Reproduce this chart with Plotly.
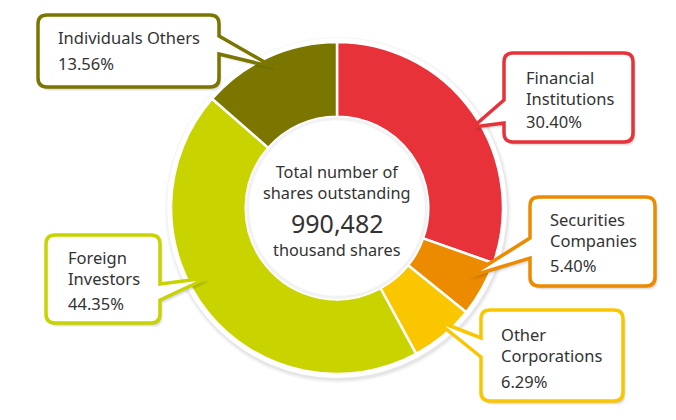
import plotly.graph_objects as go

# shareholder composition
labels = [
    "Financial Institutions",
    "Securities Companies",
    "Other Corporations",
    "Foreign Investors",
    "Individuals Others",
]
name_lines = [
    ["Financial", "Institutions"],
    ["Securities", "Companies"],
    ["Other", "Corporations"],
    ["Foreign", "Investors"],
    ["Individuals Others"],
]
shares_pct = [30.40, 5.40, 6.29, 44.35, 13.56]
colors = ["#E8323A", "#EC8B00", "#FAC600", "#C8D300", "#7A7600"]

total_shares = "990,482"

# page body keeps an 8px margin, so the figure is drawn inside it
OFF = 8
W, H = 660, 404
CX, CY, R = 337, 208, 166
HOLE = 0.55
FONT = "Noto Sans"
TXT = "#333333"


def px(x):
    return (x - OFF) / W


def py(y):
    return 1 - (y - OFF) / H


# callout boxes: (x0, y0, x1, y1, side, base0, base1, tip, text_x, name_y, pct_y)
callouts = [
    (504, 53, 633, 142, "left", 100, 123, (473, 127), 525, 87.5, 121),
    (530, 197, 655, 286, "left", 238, 258, (468, 277), 549, 229.5, 265),
    (481, 310, 623, 401, "left", 338, 357, (435, 320), 500, 344.5, 381),
    (46, 235, 160, 323, "right", 284, 300, (207, 278), 67, 267.5, 303),
    (38, 15, 219, 87, "right", 36, 54, (273, 67), 57, 38, 63),
]


def callout_path(x0, y0, x1, y1, side, b0, b1, tip, r=9, dx=0, dy=0):
    x0, x1, y0, y1 = x0 + dx, x1 + dx, y0 + dy, y1 + dy
    b0, b1 = b0 + dy, b1 + dy
    tx, ty = tip[0] + dx, tip[1] + dy

    def P(x, y):
        return f"{px(x):.5f},{py(y):.5f}"

    pts = [f"M{P(x0 + r, y0)}", f"L{P(x1 - r, y0)}", f"Q{P(x1, y0)} {P(x1, y0 + r)}"]
    if side == "right":
        pts += [f"L{P(x1, b0)}", f"L{P(tx, ty)}", f"L{P(x1, b1)}"]
    pts += [
        f"L{P(x1, y1 - r)}",
        f"Q{P(x1, y1)} {P(x1 - r, y1)}",
        f"L{P(x0 + r, y1)}",
        f"Q{P(x0, y1)} {P(x0, y1 - r)}",
    ]
    if side == "left":
        pts += [f"L{P(x0, b1)}", f"L{P(tx, ty)}", f"L{P(x0, b0)}"]
    pts += [f"L{P(x0, y0 + r)}", f"Q{P(x0, y0)} {P(x0 + r, y0)}"]
    return " ".join(pts) + " Z"


fig = go.Figure()

fig.add_trace(
    go.Pie(
        labels=labels,
        values=shares_pct,
        hole=HOLE,
        sort=False,
        direction="clockwise",
        rotation=0,
        marker=dict(colors=colors, line=dict(color="white", width=2.5)),
        textinfo="none",
        hoverinfo="label+percent",
        showlegend=False,
        domain=dict(
            x=[px(CX - R), px(CX + R)],
            y=[py(CY + R), py(CY - R)],
        ),
    )
)

shapes = []
# soft rim + shadow around the ring
for grow, col in [(7, "rgba(0,0,0,0.04)"), (5, "rgba(0,0,0,0.06)")]:
    shapes.append(
        dict(
            type="circle", xref="paper", yref="paper", layer="below",
            x0=px(CX - R - grow + 1), x1=px(CX + R + grow + 1),
            y0=py(CY + R + grow + 2), y1=py(CY - R - grow + 2),
            fillcolor=col, line=dict(width=0),
        )
    )
shapes.append(
    dict(
        type="circle", xref="paper", yref="paper", layer="below",
        x0=px(CX - R - 4), x1=px(CX + R + 4),
        y0=py(CY + R + 4), y1=py(CY - R - 4),
        fillcolor="white", line=dict(width=0),
    )
)
# inner shadow of the hole
ri = R * HOLE
shapes.append(
    dict(
        type="circle", xref="paper", yref="paper", layer="above",
        x0=px(CX - ri + 2), x1=px(CX + ri - 2),
        y0=py(CY + ri - 2), y1=py(CY - ri + 2),
        fillcolor="rgba(0,0,0,0)", line=dict(color="rgba(0,0,0,0.05)", width=3),
    )
)

annotations = []
for i, c in enumerate(callouts):
    x0, y0, x1, y1, side, b0, b1, tip, tx, name_y, pct_y = c
    for off, alpha in [(4, 0.05), (3, 0.07), (2, 0.08)]:
        shapes.append(
            dict(
                type="path", xref="paper", yref="paper", layer="above",
                path=callout_path(x0, y0, x1, y1, side, b0, b1, tip, dx=off - 1, dy=off),
                fillcolor=f"rgba(0,0,0,{alpha})", line=dict(width=0),
            )
        )
    shapes.append(
        dict(
            type="path", xref="paper", yref="paper", layer="above",
            path=callout_path(x0, y0, x1, y1, side, b0, b1, tip),
            fillcolor="white", line=dict(color=colors[i], width=3.5),
        )
    )
    rows = [("<br>".join(name_lines[i]), name_y), (f"{shares_pct[i]:.2f}%", pct_y)]
    for txt, ty in rows:
        annotations.append(
            dict(
                x=px(tx), y=py(ty), xref="paper", yref="paper",
                xanchor="left", yanchor="middle", align="left", showarrow=False,
                borderpad=0,
                text=txt, font=dict(family=FONT, size=16.5, color=TXT),
            )
        )

# centre text
for txt, y, size in [
    ("Total number of<br>shares outstanding", 183, 16.3),
    (total_shares, 222.5, 25),
    ("thousand shares", 249.5, 16.3),
]:
    annotations.append(
        dict(
            x=px(CX), y=py(y), xref="paper", yref="paper",
            xanchor="center", yanchor="middle", showarrow=False, borderpad=0,
            text=txt, font=dict(family=FONT, size=size, color=TXT),
        )
    )

fig.update_layout(
    width=W,
    height=H,
    margin=dict(l=0, r=0, t=0, b=0),
    paper_bgcolor="white",
    plot_bgcolor="white",
    shapes=shapes,
    annotations=annotations,
)

fig.write_html("out.html")
